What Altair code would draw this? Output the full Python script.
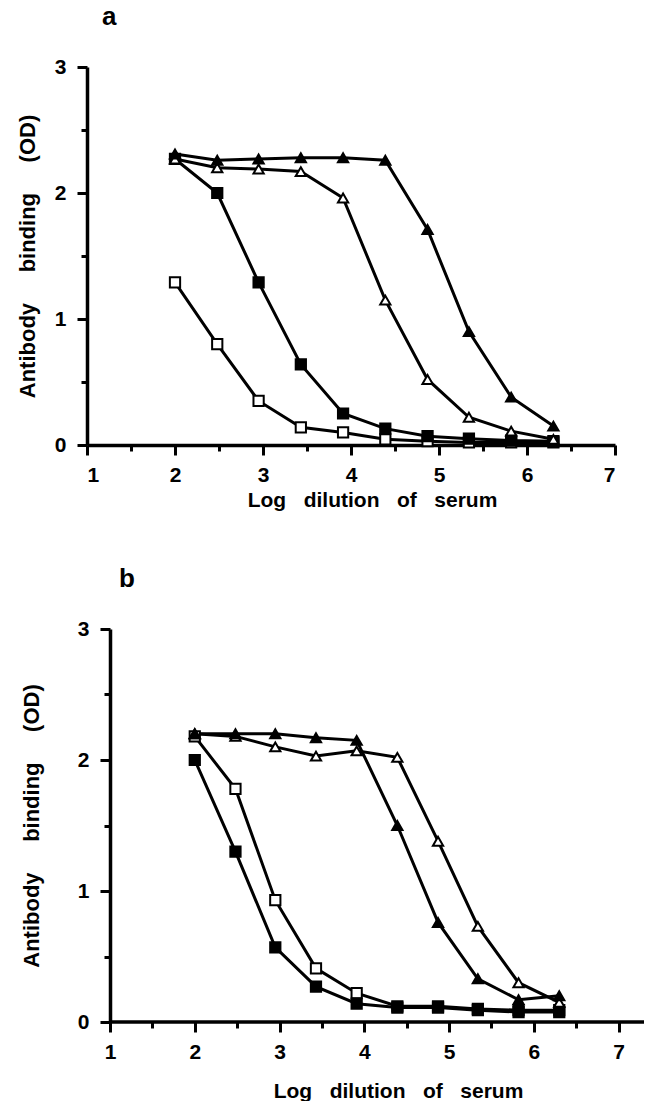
import altair as alt
import pandas as pd

# Log dilution steps (3-fold dilutions)
x_steps = [2.0, 2.48, 2.95, 3.43, 3.91, 4.39, 4.87, 5.34, 5.82, 6.30]

# Panel a
a_open_sq = [1.29, 0.80, 0.35, 0.14, 0.10, 0.045, 0.03, 0.02, 0.02, 0.02]
a_fill_sq = [2.27, 2.00, 1.29, 0.64, 0.25, 0.13, 0.07, 0.05, 0.035, 0.03]
a_open_tri = [2.27, 2.20, 2.19, 2.17, 1.96, 1.15, 0.52, 0.22, 0.11, 0.045]
a_fill_tri = [2.31, 2.26, 2.27, 2.28, 2.28, 2.26, 1.71, 0.90, 0.38, 0.15]

# Panel b
b_open_sq = [2.18, 1.78, 0.93, 0.41, 0.22, 0.12, 0.12, 0.10, 0.09, 0.09]
b_fill_sq = [2.00, 1.30, 0.57, 0.27, 0.14, 0.11, 0.11, 0.09, 0.076, 0.076]
b_open_tri = [2.20, 2.18, 2.10, 2.03, 2.07, 2.02, 1.38, 0.73, 0.30, 0.15]
b_fill_tri = [2.20, 2.20, 2.20, 2.17, 2.15, 1.50, 0.76, 0.33, 0.17, 0.20]

series_names = ["open_sq", "fill_sq", "open_tri", "fill_tri"]
x_ticks = [1, 1.5, 2, 2.5, 3, 3.5, 4, 4.5, 5, 5.5, 6, 6.5, 7]
y_ticks = [0, 0.5, 1, 1.5, 2, 2.5, 3]

FONT = "Liberation Sans"
NB = "\u00a0"
X_TITLE = "Log" + NB * 3 + "dilution" + NB * 3 + "of" + NB * 3 + "serum"
Y_TITLE = "Antibody" + NB * 5 + "binding" + NB * 5 + "(OD)"

INT_LABEL = "datum.value % 1 === 0 ? format(datum.value, 'd') : ''"
TICK_LEN = {"condition": {"test": "datum.value % 1 === 0", "value": 10}, "value": 6}


def make_df(lists):
    rows = []
    for name, vals in zip(series_names, lists):
        for x, y in zip(x_steps, vals):
            rows.append({"x": x, "y": y, "series": name})
    return pd.DataFrame(rows)


def panel(df, letter, x_min, x_max, w, h, y_offset, y_title_pad, x_title_pad, x_title_x,
          letter_dx, x_domain_line):
    xs = alt.X(
        "x:Q",
        scale=alt.Scale(domain=[x_min, x_max], nice=False, zero=False),
        axis=alt.Axis(
            values=x_ticks,
            labelExpr=INT_LABEL,
            tickSize=TICK_LEN,
            title=X_TITLE,
            titleFontSize=21,
            titlePadding=x_title_pad,
            titleX=x_title_x,
            labelPadding=9,
            domain=x_domain_line,
        ),
    )
    ys = alt.Y(
        "y:Q",
        scale=alt.Scale(domain=[0, 3], nice=False),
        axis=alt.Axis(
            values=y_ticks,
            labelExpr=INT_LABEL,
            tickSize=TICK_LEN,
            title=Y_TITLE,
            titleFontSize=22,
            titlePadding=y_title_pad,
            labelPadding=11,
            offset=y_offset,
        ),
    )
    layers = []
    if not x_domain_line:
        base_line = pd.DataFrame({"x": [1.0], "x2": [x_max], "y": [0.0]})
        layers.append(
            alt.Chart(base_line).mark_rule(color="black", strokeWidth=3.5).encode(
                x=alt.X("x:Q", scale=alt.Scale(domain=[x_min, x_max], nice=False, zero=False)),
                x2="x2:Q",
                y=alt.Y("y:Q", scale=alt.Scale(domain=[0, 3], nice=False)),
            )
        )
    lines = alt.Chart(df).mark_line(color="black", strokeWidth=3).encode(
        x=xs, y=ys, detail="series:N"
    )
    pts = alt.Chart(df).mark_point(filled=True, stroke="black", strokeWidth=2, opacity=1).encode(
        x=xs,
        y=ys,
        shape=alt.Shape("series:N", scale=alt.Scale(domain=series_names,
                        range=["square", "square", "triangle-up", "triangle-up"]), legend=None),
        fill=alt.Fill("series:N", scale=alt.Scale(domain=series_names,
                      range=["white", "black", "white", "black"]), legend=None),
        size=alt.Size("series:N", scale=alt.Scale(domain=series_names,
                      range=[105, 105, 175, 175]), legend=None),
    )
    layers += [lines, pts]
    return alt.layer(*layers).properties(
        width=w, height=h,
        title=alt.TitleParams(letter, anchor="start", frame="group", dx=letter_dx,
                              fontSize=26, font=FONT, fontWeight="bold", offset=26),
    )


# panel a: x=1 at plot left, 88 px per unit
pa = panel(make_df([a_open_sq, a_fill_sq, a_open_tri, a_fill_tri]), "a",
           1, 7, 528, 378, 0, 15, 4, 285, 15, True)
# panel b: y axis moved 23 px to the right of the shared left edge, 84.7 px per unit
B_UNIT = 84.7
b_min = 1 - 23 / B_UNIT
b_max = 7.3
pb = panel(make_df([b_open_sq, b_fill_sq, b_open_tri, b_fill_tri]), "b",
           b_min, b_max, round((b_max - b_min) * B_UNIT), 393, -23, 34, 18, 311, 32, False)

chart = alt.vconcat(pa, pb, spacing=56).configure_view(
    stroke=None
).configure_axis(
    grid=False,
    domainColor="black", domainWidth=3.5,
    tickColor="black", tickWidth=3,
    labelFont=FONT, labelFontWeight="bold", labelFontSize=21, labelColor="black",
    titleFont=FONT, titleFontWeight="bold", titleColor="black",
).properties(padding={"left": 16, "top": 4, "right": 0, "bottom": 0}, background="white")

chart.save("out.html", embed_options={"renderer": "svg", "actions": False})
